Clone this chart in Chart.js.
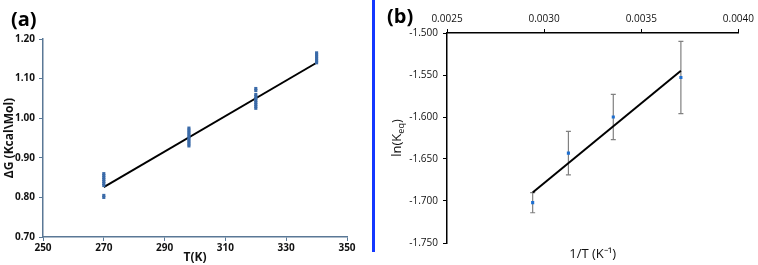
<!DOCTYPE html>
<html>
<head>
<meta charset="utf-8">
<script src="https://cdn.jsdelivr.net/npm/chart.js@4"></script>
<style>
  body { margin: 0; background: #fff; }
  #wrap { position: relative; width: 758px; height: 265px; overflow: hidden; }
  canvas { position: absolute; top: 0; }
  #chartA { left: 0; }
  #chartB { left: 375px; }
  #divider { position: absolute; left: 372px; top: 0; width: 3px; height: 252px; background: #1438ff; }
</style>
</head>
<body>
<div id="wrap">
  <canvas id="chartA" width="370" height="265"></canvas>
  <div id="divider"></div>
  <canvas id="chartB" width="383" height="265"></canvas>
</div>
<script>
// panel (a): dG vs T
const temps = [270, 298, 320, 340];
const dGValues = [
    [0.800, 0.805, 0.830, 0.835, 0.840, 0.845, 0.850, 0.855, 0.860],
    [0.930, 0.935, 0.940, 0.945, 0.950, 0.955, 0.960, 0.965, 0.970, 0.975],
    [1.025, 1.030, 1.035, 1.040, 1.045, 1.050, 1.055, 1.060, 1.070, 1.075],
    [1.140, 1.145, 1.150, 1.155, 1.160, 1.165]
];
const fitT = [270, 340];
const fitDG = [0.826, 1.140];

// panel (b): ln(Keq) vs 1/T
const invT = [0.002941, 0.003125, 0.003356, 0.003704];
const lnK = [-1.702, -1.643, -1.600, -1.553];
const lnKErr = [0.012, 0.026, 0.027, 0.043];
const fitInvT = [0.002941, 0.003704];
const fitLnK = [-1.690, -1.545];

const axisA = '#5a7896';

const tickFontA = { family: 'Open Sans', size: 10, weight: 'bold' };
const tickFontB = { family: 'Open Sans', size: 10 };

function panelLabel(text, x, y) {
    return {
        id: 'panelLabel',
        afterDraw(chart) {
            const ctx = chart.ctx;
            ctx.save();
            ctx.font = 'bold 20px "Open Sans"';
            ctx.fillStyle = '#000';
            ctx.textBaseline = 'middle';
            ctx.fillText(text, x, y);
            ctx.restore();
        }
    };
}

const scatterPoints = [];
temps.forEach((t, i) => dGValues[i].forEach(v => scatterPoints.push({ x: t, y: v })));

new Chart(document.getElementById('chartA'), {
    type: 'scatter',
    data: {
        datasets: [{
            data: scatterPoints,
            pointStyle: 'rect',
            pointRadius: 2.2,
            backgroundColor: '#3a6aa8',
            borderColor: '#3a6aa8',
            borderWidth: 0
        }, {
            type: 'line',
            data: fitT.map((t, i) => ({ x: t, y: fitDG[i] })),
            borderColor: '#000',
            borderWidth: 2,
            pointRadius: 0,
            fill: false
        }]
    },
    options: {
        responsive: false,
        animation: false,
        events: [],
        layout: { padding: { top: 39, right: 23, left: 0, bottom: 0 } },
        plugins: { legend: { display: false }, tooltip: { enabled: false } },
        scales: {
            x: {
                type: 'linear', min: 250, max: 350,
                afterFit: s => { s.height = 28; },
                ticks: { stepSize: 20, font: tickFontA, color: '#111', padding: 1 },
                grid: { drawOnChartArea: false, tickLength: 4, color: axisA },
                border: { color: axisA, width: 1.5 },
                title: { display: true, text: 'T(K)', font: { family: 'Open Sans', size: 12, weight: 'bold' }, color: '#111', padding: 0 }
            },
            y: {
                min: 0.7, max: 1.2,
                afterFit: s => { s.width = 43; },
                ticks: { stepSize: 0.1, font: tickFontA, color: '#111', padding: 4, callback: v => v.toFixed(2) },
                grid: { drawOnChartArea: false, tickLength: 4, color: axisA },
                border: { color: axisA, width: 1.5 },
                title: { display: true, text: 'ΔG (Kcal\\Mol)', font: { family: 'Open Sans', size: 12, weight: 'bold' }, color: '#111', padding: { top: 2, bottom: 0 } }
            }
        }
    },
    plugins: [panelLabel('(a)', 11, 20)]
});

const errorBars = {
    id: 'errorBars',
    beforeDatasetsDraw(chart) {
        const ctx = chart.ctx;
        const xs = chart.scales.x, ys = chart.scales.y;
        ctx.save();
        ctx.strokeStyle = '#808080';
        ctx.lineWidth = 1.2;
        invT.forEach((t, i) => {
            const px = xs.getPixelForValue(t);
            const top = ys.getPixelForValue(lnK[i] + lnKErr[i]);
            const bot = ys.getPixelForValue(lnK[i] - lnKErr[i]);
            ctx.beginPath();
            ctx.moveTo(px, top); ctx.lineTo(px, bot);
            ctx.moveTo(px - 2.5, top); ctx.lineTo(px + 2.5, top);
            ctx.moveTo(px - 2.5, bot); ctx.lineTo(px + 2.5, bot);
            ctx.stroke();
        });
        ctx.restore();
    }
};

const titlesB = {
    id: 'titlesB',
    afterDraw(chart) {
        const ctx = chart.ctx;
        const area = chart.chartArea;
        ctx.save();
        ctx.fillStyle = '#111';
        // x title under the plot
        ctx.font = '13px "Open Sans"';
        ctx.textAlign = 'center';
        ctx.textBaseline = 'middle';
        ctx.fillText('1/T (K\u207B\u00B9)', (area.left + area.right) / 2, 254);
        // y title with subscript
        ctx.translate(22, (area.top + area.bottom) / 2);
        ctx.rotate(-Math.PI / 2);
        ctx.textAlign = 'left';
        const a = 'ln(K', b = 'eq', c = ')';
        ctx.font = '13px "Open Sans"';
        const wa = ctx.measureText(a).width, wc = ctx.measureText(c).width;
        ctx.font = '9px "Open Sans"';
        const wb = ctx.measureText(b).width;
        let x0 = -(wa + wb + wc) / 2;
        ctx.font = '13px "Open Sans"';
        ctx.fillText(a, x0, 0);
        ctx.font = '9px "Open Sans"';
        ctx.fillText(b, x0 + wa, 4);
        ctx.font = '13px "Open Sans"';
        ctx.fillText(c, x0 + wa + wb, 0);
        ctx.restore();
    }
};

new Chart(document.getElementById('chartB'), {
    type: 'scatter',
    data: {
        datasets: [{
            data: invT.map((t, i) => ({ x: t, y: lnK[i] })),
            pointStyle: 'rect',
            pointRadius: 2.2,
            backgroundColor: '#1f6fd0',
            borderWidth: 0
        }, {
            type: 'line',
            data: fitInvT.map((t, i) => ({ x: t, y: fitLnK[i] })),
            borderColor: '#000',
            borderWidth: 2,
            pointRadius: 0,
            fill: false
        }]
    },
    options: {
        responsive: false,
        animation: false,
        events: [],
        layout: { padding: { top: 0, right: 17, left: 0, bottom: 22 } },
        plugins: { legend: { display: false }, tooltip: { enabled: false } },
        scales: {
            x: {
                type: 'linear', position: 'top', min: 0.0025, max: 0.004,
                afterFit: s => { s.height = 33; },
                ticks: { stepSize: 0.0005, font: tickFontB, color: '#111', padding: 4, callback: v => v.toFixed(4) },
                grid: { drawOnChartArea: false, tickLength: 4, color: '#000' },
                border: { color: '#000', width: 1.5 }
            },
            y: {
                min: -1.75, max: -1.5,
                afterFit: s => { s.width = 72; },
                ticks: { stepSize: 0.05, font: tickFontB, color: '#111', padding: 5, callback: v => v.toFixed(3) },
                grid: { drawOnChartArea: false, tickLength: 4, color: '#000' },
                border: { color: '#000', width: 1.5 }
            }
        }
    },
    plugins: [errorBars, titlesB, panelLabel('(b)', 12, 17)]
});
</script>
</body>
</html>
